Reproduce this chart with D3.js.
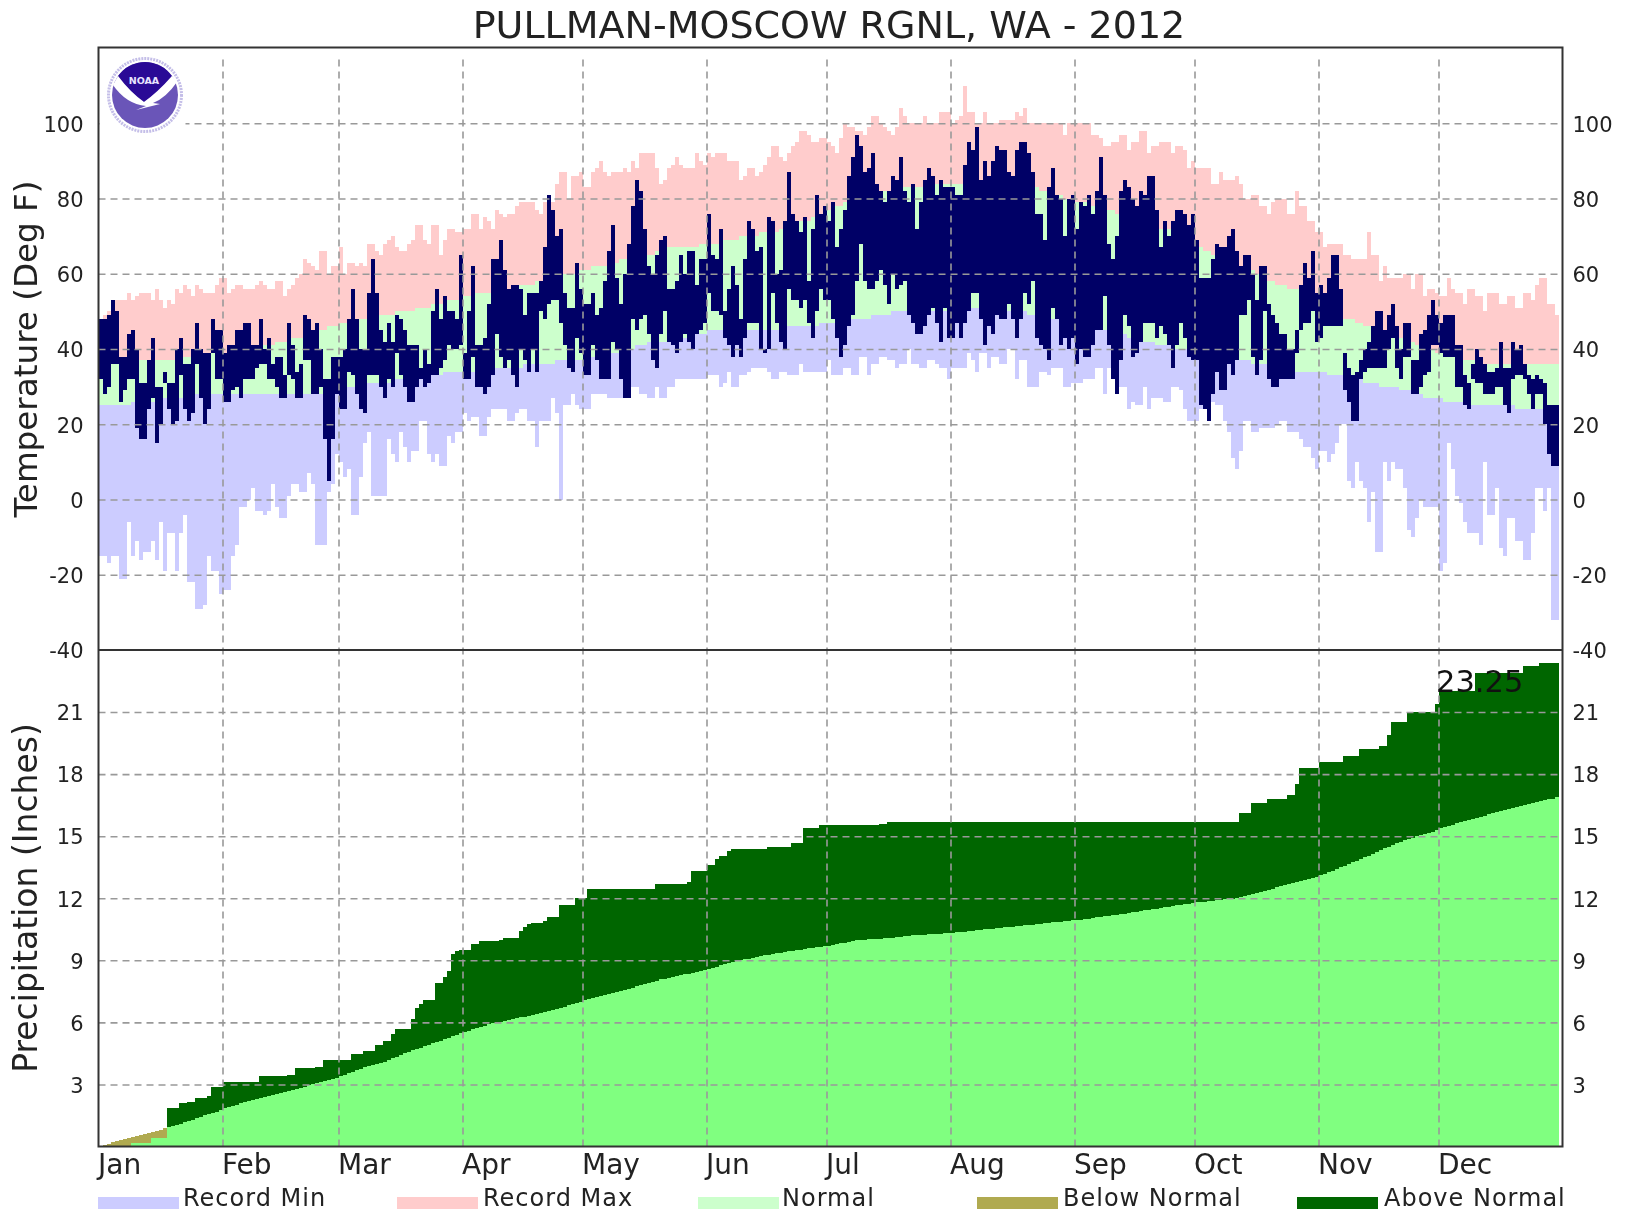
<!DOCTYPE html>
<html><head><meta charset="utf-8">
<script src="https://d3js.org/d3.v7.min.js"></script>
<style>
html,body{margin:0;padding:0;background:#fff}
svg{display:block;filter:blur(0.45px)}
text{font-family:"DejaVu Sans",sans-serif;fill:#222}
</style></head><body>
<svg id="c" width="1625" height="1212"></svg>
<script>
const chartTitle="PULLMAN-MOSCOW RGNL, WA - 2012";
const monthNames=["Jan","Feb","Mar","Apr","May","Jun","Jul","Aug","Sep","Oct","Nov","Dec"];
const monthStarts=[0,31,60,91,121,152,182,213,244,274,305,335];
const tempTicks=[-40,-20,0,20,40,60,80,100];
const tempGrid=[-20,0,20,40,60,80,100];
const precipTicks=[3,6,9,12,15,18,21];
const totalLabel="23.25";
const legendNames=["Record Min","Record Max","Normal","Below Normal","Above Normal"];

const recMax=[
48,49,50,50,53,53,53,55,53,54,55,55,55,53,56,53,51,53,52,56,55,57,56,54,57,56,55,55,55,57,59,
59,55,56,57,57,56,56,56,57,58,57,56,56,58,58,54,56,57,59,60,64,63,62,61,66,66,60,62,62,
67,60,63,63,62,63,62,68,68,66,65,68,69,70,67,66,66,68,69,73,73,69,68,73,73,65,69,72,72,71,71,
72,72,76,76,72,75,74,72,77,76,75,76,76,78,79,79,79,79,77,76,79,79,79,84,87,87,80,86,86,87,
83,83,87,88,90,87,86,87,87,87,88,87,90,88,92,92,92,92,88,84,85,88,89,91,89,88,88,88,92,90,89,
92,91,92,92,92,90,90,90,85,86,88,88,86,87,89,91,94,94,91,90,92,94,95,98,98,97,95,95,96,96,
95,94,92,96,100,99,99,98,98,97,99,102,102,100,99,98,97,99,104,102,100,100,100,100,102,100,100,100,103,103,103,
100,101,102,110,103,103,100,100,103,100,100,100,101,101,101,101,103,102,104,100,100,100,100,100,100,100,100,100,97,100,100,
100,100,100,100,97,97,96,94,94,95,95,97,97,93,95,95,98,98,92,94,94,95,95,95,92,94,94,93,88,90,
88,88,88,88,84,84,87,85,85,85,86,84,80,80,81,81,78,78,76,79,80,80,80,76,76,82,78,78,74,74,71,
71,67,68,68,68,68,65,65,64,64,64,64,71,65,65,58,62,59,59,59,59,60,60,56,60,60,54,56,56,55,
54,54,59,56,55,55,52,56,56,54,54,50,55,55,55,52,52,54,54,51,51,55,55,53,57,59,59,52,52,49];

const recMin=[
-15,-15,-17,-15,-15,-21,-21,-6,-15,-11,-16,-14,-14,-11,-16,-6,-19,-9,-9,-19,-9,-4,-22,-22,-29,-29,-28,-15,-19,-19,-25,
-24,-24,-15,-12,-2,-2,0,3,-3,-3,-4,-3,4,-2,-5,-5,1,4,4,2,2,7,4,-12,-12,-12,2,4,12,
10,6,8,-4,-4,6,15,18,1,1,1,1,16,12,10,18,14,10,13,13,21,21,12,10,12,9,9,17,15,18,18,
23,21,22,22,17,17,22,24,24,24,24,21,21,23,24,24,21,21,14,21,21,21,27,23,0,25,25,28,25,24,
24,24,28,28,28,28,27,27,27,27,27,30,30,30,28,28,27,27,30,27,27,30,30,32,32,32,32,32,32,32,32,
33,33,33,30,31,34,30,30,33,33,34,35,35,35,35,34,32,32,34,34,33,33,33,36,34,34,34,34,34,34,
37,33,33,33,35,35,33,33,38,38,33,36,36,38,38,37,37,35,36,36,40,36,36,35,35,37,37,36,35,35,32,
35,35,35,35,39,37,34,39,39,35,38,38,36,36,40,40,32,37,37,30,30,30,34,34,33,35,35,35,30,30,31,
31,31,32,32,32,35,35,28,35,32,32,30,30,24,26,25,25,30,24,27,27,27,26,26,30,30,29,24,21,21,
21,24,24,26,26,25,25,21,18,11,8,13,21,21,18,18,19,19,19,19,20,21,21,18,18,18,16,14,14,11,8,
13,13,10,12,15,20,20,5,3,10,5,3,-6,2,-14,-14,10,5,10,8,8,3,-8,-10,-5,0,-2,-2,-2,-2,
-19,-17,15,8,1,-1,-6,-9,-9,-9,-12,10,-4,-4,3,-13,-15,-5,-5,-11,-11,-16,-16,-9,3,3,-3,3,-32,-32];

const normHigh=[
36,36,36,36,36,36,36,36,36,36,37,37,37,37,37,37,37,37,37,37,38,38,38,38,38,38,38,39,39,39,39,
39,39,40,40,40,40,40,41,41,41,41,41,41,42,42,42,42,43,43,43,44,44,44,44,45,45,46,46,46,
47,47,47,47,47,48,48,48,48,48,49,49,49,49,50,50,50,50,50,51,51,51,51,52,52,52,52,53,53,53,54,
54,54,54,55,55,55,55,55,55,55,56,56,56,56,57,57,57,57,58,58,58,59,59,59,60,60,60,60,61,61,
61,61,62,62,62,62,62,63,63,64,64,64,64,65,65,65,65,65,66,66,66,67,67,67,67,67,67,67,67,68,68,
68,68,68,69,69,69,69,69,70,70,70,70,70,71,71,71,71,71,72,72,72,73,73,74,74,74,75,75,76,76,
77,77,78,78,79,79,79,80,80,80,80,81,81,81,82,82,82,82,83,83,83,83,83,83,83,84,84,84,84,84,84,
84,84,84,84,84,84,84,84,84,84,84,84,84,84,84,84,84,83,83,83,83,83,82,82,82,81,81,81,80,80,80,
79,79,79,78,78,78,78,77,77,77,76,76,76,75,75,75,74,74,73,73,73,72,72,72,71,71,71,70,70,69,
68,67,66,66,65,65,65,64,64,63,63,62,62,61,61,60,60,59,58,58,57,57,57,56,56,56,55,55,54,53,52,
51,50,50,49,49,49,48,48,48,47,47,46,46,45,45,45,44,44,43,43,43,43,42,42,41,41,41,40,40,39,
39,39,38,38,38,38,37,37,37,37,36,36,36,36,36,36,36,36,36,36,36,36,36,36,36,36,36,36,36,36];

const normLow=[
25,25,25,25,25,25,25,25,26,26,26,26,26,26,26,26,27,27,27,27,27,27,27,27,28,28,28,28,28,28,28,
28,28,28,28,28,28,28,28,28,28,28,28,28,28,28,28,28,28,28,28,28,28,28,28,28,29,29,29,30,
30,30,30,30,30,30,31,31,31,31,31,31,31,32,32,32,32,32,32,32,33,33,33,33,33,33,34,34,34,34,34,
34,34,34,34,34,35,35,35,35,35,35,35,35,35,35,36,36,36,36,36,36,36,36,37,37,37,37,37,37,37,
38,38,38,38,38,39,39,39,39,40,40,40,40,41,41,41,42,42,42,42,42,43,43,43,43,43,44,44,44,44,44,
45,45,45,45,45,45,45,45,45,45,45,45,45,45,45,45,45,45,46,46,46,46,46,46,46,46,46,46,47,47,
47,47,47,47,47,48,48,48,48,48,48,49,49,49,49,49,50,50,50,50,50,50,50,50,50,50,50,50,50,50,50,
50,50,50,50,50,51,51,51,51,51,50,50,50,50,50,50,50,50,50,49,49,49,49,49,48,48,48,48,47,47,47,
46,46,46,46,46,46,45,45,45,44,44,44,44,43,43,43,42,42,42,42,41,41,41,41,40,40,40,40,40,39,
39,39,39,38,38,38,38,38,38,37,37,37,37,37,36,36,36,36,36,35,35,35,35,35,35,34,34,34,34,34,34,
34,34,33,33,33,33,33,32,32,32,32,31,31,31,31,30,30,30,30,30,29,29,29,28,28,28,27,27,27,27,
27,26,26,26,26,26,25,25,25,25,25,25,25,25,25,25,25,25,25,24,24,24,24,24,24,24,24,24,24,24];

const obsHigh=[
48,48,49,53,50,38,38,44,45,40,31,31,37,43,30,30,34,31,31,40,43,36,36,40,47,40,39,39,48,45,45,
39,41,41,45,45,47,47,41,41,48,40,43,36,38,38,33,47,41,34,36,49,48,45,47,40,32,32,38,38,
38,40,48,56,48,40,40,55,64,55,45,42,47,42,49,48,45,41,41,41,35,40,36,50,56,48,54,50,50,48,65,
39,50,62,41,41,43,52,64,64,69,61,56,57,57,56,49,55,55,55,58,67,81,77,70,72,55,51,51,63,56,
52,52,55,49,51,58,66,73,59,52,60,68,78,85,82,72,62,60,65,69,70,56,56,58,65,60,66,66,57,64,64,
76,65,64,72,50,56,62,57,48,64,74,72,66,67,40,75,74,60,61,74,87,76,74,71,75,58,72,81,76,78,
74,79,67,72,77,86,91,97,94,87,88,92,84,82,79,82,86,85,91,82,79,84,72,79,85,88,86,81,85,83,83,
83,81,81,89,95,93,99,85,90,86,90,94,93,93,87,86,93,95,95,92,87,76,76,69,83,88,81,80,70,80,81,
72,79,78,81,76,82,91,81,68,64,70,82,85,83,80,78,82,81,86,86,77,67,74,70,74,77,77,76,73,76,
69,59,59,59,64,68,67,67,70,72,66,62,65,65,60,53,62,62,52,49,47,44,44,40,40,45,57,63,59,66,55,
57,55,59,65,65,56,39,35,33,34,37,40,42,46,50,50,45,49,52,46,40,47,47,37,37,44,45,49,53,49,
47,49,49,49,41,41,33,31,36,40,38,36,34,34,35,42,35,35,42,40,41,36,33,32,33,32,31,25,25,25];

const obsLow=[
32,28,30,36,36,26,29,32,32,19,16,16,24,27,15,20,31,24,20,21,33,24,21,23,36,27,20,24,39,32,32,
26,26,29,30,27,32,32,32,35,36,36,32,32,30,27,27,33,32,27,27,37,37,28,28,30,16,5,16,28,
24,24,34,33,28,24,23,33,33,33,30,27,32,30,39,33,30,26,26,30,32,30,31,33,33,35,37,41,40,40,41,
32,32,38,30,30,28,30,33,44,38,35,37,33,30,40,37,34,40,34,50,48,52,53,53,47,41,35,34,43,39,
33,33,41,37,32,32,32,42,40,32,27,27,48,45,48,49,44,37,35,44,50,42,41,39,42,44,42,40,44,45,47,
55,50,50,49,43,41,38,41,38,43,47,47,47,40,39,40,55,47,42,40,56,53,53,51,53,47,43,50,56,53,
53,48,43,38,41,46,49,58,68,58,56,56,58,61,57,52,60,56,57,58,49,47,44,44,46,49,51,47,42,51,43,
43,47,43,47,50,55,55,48,41,46,44,49,48,48,52,48,43,48,55,52,58,43,41,40,37,51,48,41,43,40,43,
36,40,38,38,41,45,45,54,41,32,28,37,49,46,38,39,42,47,47,47,43,46,44,41,35,41,47,43,38,37,
37,25,24,21,28,34,29,29,36,33,37,49,49,53,38,33,37,50,32,30,30,32,32,32,32,39,45,47,47,50,42,
43,46,46,46,46,46,29,26,21,21,32,34,35,35,35,35,35,40,43,35,32,38,38,28,28,30,33,34,41,41,
39,38,38,38,30,30,25,24,32,31,31,28,28,28,30,30,25,23,32,33,33,32,28,24,28,28,20,12,9,9];

const precipObs=[
.02,.02,.02,.02,.02,.02,.02,.02,.15,.15,.15,.15,.15,.4,.4,.4,.4,1.88,1.88,1.88,2.08,2.08,2.15,2.15,2.35,2.35,2.35,2.45,2.9,2.9,2.9,
3.1,3.1,3.1,3.1,3.1,3.1,3.1,3.1,3.1,3.4,3.4,3.4,3.4,3.4,3.4,3.4,3.45,3.45,3.8,3.8,3.8,3.8,3.8,3.85,3.85,4.2,4.2,4.2,4.2,
4.2,4.2,4.2,4.45,4.45,4.45,4.6,4.6,4.6,4.9,4.9,5.1,5.1,5.45,5.66,5.66,5.66,5.66,6.15,6.7,6.9,7.1,7.1,7.1,7.9,7.9,8.2,8.5,9.3,9.45,9.5,
9.5,9.5,9.8,9.8,9.93,9.93,9.93,9.93,9.93,10,10.1,10.1,10.1,10.1,10.4,10.6,10.75,10.8,10.8,10.8,10.9,11.1,11.1,11.1,11.66,11.66,11.66,11.66,12,12,
12,12.43,12.43,12.43,12.43,12.43,12.43,12.43,12.43,12.43,12.43,12.43,12.43,12.43,12.43,12.43,12.43,12.43,12.67,12.67,12.7,12.7,12.7,12.7,12.7,12.7,12.8,13.3,13.3,13.3,13.3,
13.6,13.6,13.9,14.05,14.05,14.3,14.4,14.4,14.4,14.4,14.4,14.4,14.4,14.4,14.4,14.5,14.5,14.5,14.5,14.5,14.5,14.65,14.65,14.65,15.4,15.4,15.4,15.4,15.55,15.55,
15.55,15.55,15.55,15.55,15.55,15.55,15.55,15.55,15.55,15.55,15.55,15.55,15.55,15.6,15.6,15.7,15.7,15.7,15.7,15.7,15.7,15.7,15.7,15.7,15.7,15.7,15.7,15.7,15.7,15.7,15.7,
15.7,15.7,15.7,15.7,15.7,15.7,15.7,15.7,15.7,15.7,15.7,15.7,15.7,15.7,15.7,15.7,15.7,15.7,15.7,15.7,15.7,15.7,15.7,15.7,15.7,15.7,15.7,15.7,15.7,15.7,15.7,
15.7,15.7,15.7,15.7,15.7,15.7,15.7,15.7,15.7,15.7,15.7,15.7,15.7,15.7,15.7,15.7,15.7,15.7,15.7,15.7,15.7,15.7,15.7,15.7,15.7,15.7,15.7,15.7,15.7,15.7,
15.7,15.7,15.7,15.7,15.7,15.7,15.7,15.7,15.7,15.7,15.7,16.1,16.1,16.1,16.6,16.6,16.6,16.6,16.8,16.8,16.8,16.8,16.8,17,17,17.5,18.3,18.3,18.3,18.3,18.3,
18.6,18.6,18.6,18.6,18.6,18.6,18.9,18.9,18.9,18.9,19.2,19.2,19.2,19.2,19.2,19.35,19.35,19.9,20.5,20.5,20.5,20.5,21,21,21,21,21,21,21,21.4,
22,22,22,22,22,22,22,22,22,22.9,22.9,22.9,22.9,22.9,22.9,22.9,22.9,22.9,22.9,22.9,22.9,23.25,23.25,23.25,23.25,23.38,23.38,23.38,23.38,23.38];

const precipNorm=[
.03,.08,.13,.2,.27,.32,.36,.4,.44,.5,.55,.6,.66,.72,.77,.82,.88,.92,.97,1.02,1.1,1.17,1.24,1.3,1.37,1.43,1.5,1.56,1.62,1.68,1.75,
1.85,1.9,1.97,2.02,2.08,2.13,2.18,2.23,2.28,2.33,2.38,2.43,2.48,2.53,2.58,2.63,2.68,2.73,2.78,2.84,2.9,2.95,3,3.05,3.1,3.15,3.2,3.25,3.32,
3.4,3.47,3.55,3.62,3.7,3.76,3.82,3.88,3.93,3.98,4.03,4.1,4.18,4.26,4.34,4.42,4.5,4.58,4.66,4.72,4.78,4.85,4.92,4.99,5.06,5.12,5.18,5.25,5.32,5.4,5.47,
5.55,5.6,5.66,5.72,5.78,5.84,5.9,5.95,6,6.04,6.08,6.12,6.16,6.2,6.24,6.28,6.33,6.38,6.42,6.46,6.5,6.55,6.6,6.65,6.7,6.76,6.82,6.88,6.94,7,
7.08,7.12,7.17,7.22,7.27,7.32,7.37,7.42,7.46,7.5,7.56,7.62,7.68,7.74,7.8,7.85,7.9,7.96,8.02,8.08,8.12,8.16,8.2,8.24,8.28,8.32,8.36,8.4,8.45,8.5,8.55,
8.6,8.65,8.7,8.75,8.8,8.85,8.9,8.95,9,9.04,9.08,9.12,9.16,9.2,9.24,9.27,9.3,9.33,9.37,9.4,9.43,9.46,9.49,9.52,9.55,9.58,9.6,9.62,9.65,9.68,
9.7,9.74,9.78,9.82,9.86,9.9,9.93,9.96,9.99,10,10.02,10.03,10.04,10.05,10.06,10.08,10.1,10.12,10.14,10.16,10.18,10.2,10.21,10.22,10.23,10.25,10.26,10.27,10.28,10.3,10.31,
10.33,10.35,10.37,10.39,10.41,10.43,10.45,10.47,10.49,10.51,10.53,10.55,10.57,10.59,10.61,10.63,10.65,10.67,10.69,10.71,10.73,10.75,10.77,10.79,10.81,10.83,10.85,10.87,10.89,10.91,10.93,
10.95,10.97,11,11.02,11.05,11.07,11.1,11.12,11.15,11.18,11.2,11.23,11.26,11.29,11.32,11.35,11.38,11.41,11.44,11.47,11.5,11.53,11.56,11.59,11.62,11.65,11.68,11.71,11.74,11.77,
11.8,11.82,11.84,11.86,11.88,11.9,11.92,11.94,11.96,11.98,12,12.05,12.1,12.15,12.2,12.25,12.3,12.35,12.4,12.46,12.52,12.58,12.64,12.7,12.76,12.8,12.85,12.9,12.95,13,13.05,
13.1,13.18,13.26,13.34,13.42,13.5,13.58,13.66,13.74,13.82,13.9,13.98,14.06,14.14,14.22,14.33,14.41,14.49,14.57,14.65,14.73,14.8,14.87,14.93,15,15.05,15.1,15.15,15.2,15.3,
15.4,15.45,15.5,15.56,15.62,15.68,15.74,15.8,15.85,15.9,15.95,16,16.05,16.1,16.15,16.2,16.25,16.3,16.35,16.4,16.45,16.5,16.55,16.6,16.65,16.7,16.74,16.78,16.82,16.9];

[recMax,recMin,normHigh,normLow,obsHigh,obsLow,precipObs,precipNorm].forEach((a,i)=>{
  if(a.length!==365) throw new Error("series "+i+" has "+a.length+" values");
});

const colors={recMin:"#ccccff",recMax:"#ffcccc",normal:"#ccffcc",obs:"#000066",
  precipNormal:"#80ff80",below:"#b0aa50",above:"#006600",grid:"#999999",frame:"#333333"};
const legendColors=[colors.recMin,colors.recMax,colors.normal,colors.below,colors.above];

const L=98.5,R=1562.5,T=47.5,M=650,B=1146.5;
const svg=d3.select("#c");
const days=d3.range(365);
const x=d3.scaleLinear().domain([0,366]).range([L,R]);
const yT=d3.scaleLinear().domain([-40,120]).range([M,M-160*3.762]);
const yP=d3.scaleLinear().domain([0,24]).range([B,M]);
const bw=x(1)-x(0);

function band(cls,color,lo,hi,y){
  svg.append("g").attr("class",cls).attr("fill",color).attr("shape-rendering","crispEdges")
   .selectAll("rect").data(days.filter(d=>hi(d)>lo(d))).join("rect")
   .attr("x",d=>x(d)).attr("width",bw)
   .attr("y",d=>y(hi(d))).attr("height",d=>y(lo(d))-y(hi(d)));
}
band("rec-min",colors.recMin,d=>recMin[d],d=>normLow[d],yT);
band("normal",colors.normal,d=>normLow[d],d=>normHigh[d],yT);
band("rec-max",colors.recMax,d=>normHigh[d],d=>recMax[d],yT);
band("observed",colors.obs,d=>obsLow[d],d=>obsHigh[d],yT);

band("p-normal",colors.precipNormal,d=>0,d=>Math.min(precipObs[d],precipNorm[d]),yP);
band("p-below",colors.below,d=>precipObs[d],d=>precipNorm[d],yP);
band("p-above",colors.above,d=>precipNorm[d],d=>precipObs[d],yP);

// Grid
function styleGrid(g){
  g.select(".domain").remove();
  g.selectAll("text").remove();
  g.selectAll("line").attr("stroke",colors.grid).attr("stroke-width",1.6).attr("stroke-dasharray","7 5");
}
svg.append("g").attr("transform",`translate(${L},0)`)
  .call(d3.axisLeft(yT).tickValues(tempGrid).tickSize(-(R-L))).call(styleGrid);
svg.append("g").attr("transform",`translate(${L},0)`)
  .call(d3.axisLeft(yP).tickValues(precipTicks).tickSize(-(R-L))).call(styleGrid);
svg.append("g").attr("transform",`translate(0,${B})`)
  .call(d3.axisBottom(x).tickValues(monthStarts.slice(1)).tickSize(-(B-T-8))).call(styleGrid);

// NOAA logo
const logo=svg.append("g");
logo.append("rect").attr("x",L+1).attr("y",T+1).attr("width",86).attr("height",88).attr("fill","#fff");
logo.append("circle").attr("cx",145).attr("cy",95).attr("r",36.5).attr("fill","none")
  .attr("stroke","#c4bee8").attr("stroke-width",3).attr("stroke-dasharray","2 1");
logo.append("circle").attr("cx",145).attr("cy",95).attr("r",33).attr("fill","#6a55b8");
logo.append("path").attr("d","M118,76 A33,33 0 0 1 172,76 Q158,92 144,102 Q130,92 118,76Z").attr("fill","#2a0a96");
logo.append("path").attr("fill","#fff")
  .attr("d","M113,85 L118,76 Q130,92 144,102 Q158,92 172,76 L177,82 Q166,98 153,103 L160,104 L136,110 L146,106 Q126,104 113,85Z");
logo.append("text").attr("x",144).attr("y",84).attr("text-anchor","middle").attr("font-size",9.5)
  .attr("font-weight","bold").style("fill","#e8e4ff").text("NOAA");

// Frame
svg.append("rect").attr("x",L).attr("y",T).attr("width",R-L).attr("height",B-T)
  .attr("fill","none").attr("stroke",colors.frame).attr("stroke-width",2);
svg.append("line").attr("x1",L).attr("x2",R).attr("y1",M).attr("y2",M)
  .attr("stroke",colors.frame).attr("stroke-width",2);

// Axes
function styleAxis(g,fs){
  g.select(".domain").remove();
  g.selectAll("line").remove();
  g.selectAll("text").attr("font-size",fs).style("fill","#222");
}
const fmt=d=>String(d);
const shiftDown=g=>g.selectAll("text").attr("dy","0.37em");
svg.append("g").attr("transform",`translate(${L},0)`)
  .call(d3.axisLeft(yT).tickValues(tempTicks).tickSize(0).tickPadding(15).tickFormat(fmt)).call(styleAxis,21).call(shiftDown);
svg.append("g").attr("transform",`translate(${L},0)`)
  .call(d3.axisLeft(yP).tickValues(precipTicks).tickSize(0).tickPadding(15).tickFormat(fmt)).call(styleAxis,21).call(shiftDown);
svg.append("g").attr("transform",`translate(${R},0)`)
  .call(d3.axisRight(yT).tickValues(tempTicks).tickSize(0).tickPadding(10).tickFormat(fmt)).call(styleAxis,21).call(shiftDown);
svg.append("g").attr("transform",`translate(${R},0)`)
  .call(d3.axisRight(yP).tickValues(precipTicks).tickSize(0).tickPadding(10).tickFormat(fmt)).call(styleAxis,21).call(shiftDown);
svg.append("g").attr("transform",`translate(0,${B})`)
  .call(d3.axisBottom(x).tickValues(monthStarts).tickSize(0).tickFormat((d,i)=>monthNames[i]))
  .call(styleAxis,28)
  .call(g=>g.selectAll("text").attr("text-anchor","start").attr("x",-1).attr("y",27).attr("dy",0));

// Titles
svg.append("text").attr("x",829).attr("y",38).attr("text-anchor","middle").attr("font-size",38).text(chartTitle);
svg.append("text").attr("transform","translate(37,349) rotate(-90)").attr("text-anchor","middle").attr("font-size",32.6).text("Temperature (Deg F)");
svg.append("text").attr("transform","translate(37,898) rotate(-90)").attr("text-anchor","middle").attr("font-size",33).text("Precipitation (Inches)");
svg.append("text").attr("x",1436).attr("y",692).attr("font-size",30.5).style("fill","#111").text(totalLabel);

// Legend
const legendX=[98,397,698,977,1297], legendTextX=[183,483,782,1063,1384];
const lg=svg.append("g").selectAll("g").data(legendNames).join("g");
lg.append("rect").attr("x",(d,i)=>legendX[i]).attr("y",1197).attr("width",81).attr("height",12)
  .attr("fill",(d,i)=>legendColors[i]);
lg.append("text").attr("x",(d,i)=>legendTextX[i]).attr("y",1206).attr("font-size",24).style("letter-spacing","1px").text(d=>d);
</script>
</body></html>
